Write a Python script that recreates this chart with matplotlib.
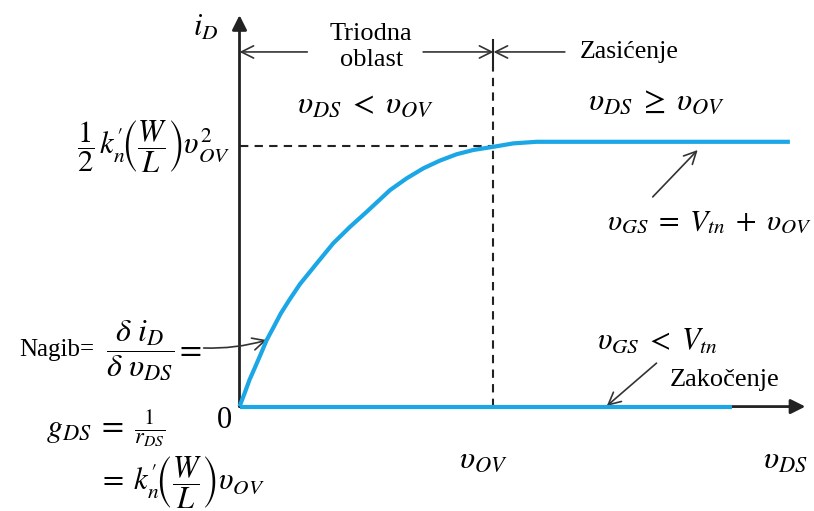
import numpy as np
import matplotlib.pyplot as plt

plt.rcParams['mathtext.fontset'] = 'stix'
plt.rcParams['font.family'] = ['Liberation Serif', 'DejaVu Serif']

# i_D(v_DS) for v_GS = V_tn + v_OV, normalised: v_DS / v_OV and i_D / i_D,sat
vds_curve = [0.0, 0.020, 0.039, 0.062, 0.085, 0.107, 0.135, 0.163, 0.196,
             0.238, 0.304, 0.369, 0.435, 0.501, 0.593, 0.658, 0.724, 0.789,
             0.855, 0.920, 0.999, 1.078, 1.170, 2.167]
id_curve = [0.0, 0.050, 0.100, 0.150, 0.201, 0.251, 0.301, 0.352, 0.402,
            0.462, 0.540, 0.616, 0.678, 0.735, 0.817, 0.861, 0.899, 0.928,
            0.952, 0.968, 0.980, 0.993, 0.999, 0.999]

# cutoff (v_GS < V_tn): i_D = 0
vds_cutoff = [0.0, 1.941]
id_cutoff = [0.0, 0.0]

v_ov = 1.0
id_sat_mark = 0.982
vds_axis_end = 2.228
id_axis_end = 1.477

BLUE = '#1ba6e6'
INK = '#222222'

fig = plt.figure(figsize=(8.14, 5.11), dpi=100)
ax = fig.add_axes([0, 0, 1, 1])
ax.set_xlim(-0.943, 2.262)
ax.set_ylim(-0.394, 1.534)
ax.axis('off')

# axes with arrows
axis_kw = dict(arrowstyle='-|>', lw=2.0, color=INK, mutation_scale=22,
               shrinkA=0, shrinkB=0)
ax.annotate('', xy=(0, id_axis_end), xytext=(0, 0), arrowprops=axis_kw)
ax.annotate('', xy=(vds_axis_end, 0), xytext=(0, 0), arrowprops=axis_kw)

# dashed guides at v_OV and saturation current
ax.plot([0, v_ov], [id_sat_mark, id_sat_mark], ls=(0, (4, 3)), color=INK, lw=1.5)
ax.plot([v_ov, v_ov], [0, 1.281], ls=(0, (4, 3)), color=INK, lw=1.5)
ax.plot([v_ov, v_ov], [1.281, 1.383], color=INK, lw=1.5)

# characteristic curves
ax.plot(vds_curve, id_curve, color=BLUE, lw=3, solid_capstyle='butt',
        solid_joinstyle='round', zorder=5)
ax.plot(vds_cutoff, id_cutoff, color=BLUE, lw=3, solid_capstyle='butt', zorder=5)

# region arrows
thin = dict(arrowstyle='->', lw=1.2, color='#333333', mutation_scale=22,
            shrinkA=0, shrinkB=0)
ax.annotate('', xy=(0, 1.338), xytext=(0.267, 1.338), arrowprops=thin)
ax.annotate('', xy=(v_ov, 1.338), xytext=(0.723, 1.338), arrowprops=thin)
ax.annotate('', xy=(v_ov, 1.338), xytext=(1.281, 1.338), arrowprops=thin)
ax.annotate('', xy=(1.804, 0.968), xytext=(1.627, 0.791), arrowprops=thin)
ax.annotate('', xy=(1.446, 0.002), xytext=(1.642, 0.164), arrowprops=thin)
ax.annotate('', xy=(0.107, 0.251), xytext=(-0.141, 0.221),
            arrowprops=dict(thin, connectionstyle='arc3,rad=0.08'))

ax.text(-0.134, 1.428, r'$i_D$', fontsize=22, ha='center', va='center')
ax.text(0.519, 1.357, 'Triodna\noblast', fontsize=19, ha='center', va='center',
        linespacing=1.25)
ax.text(1.340, 1.338, 'Zasićenje', fontsize=18.5, ha='left', va='center')
ax.text(0.495, 1.138, r'$\upsilon_{DS}\;<\;\upsilon_{OV}$', fontsize=23,
        ha='center', va='center')
ax.text(1.642, 1.149, r'$\upsilon_{DS}\;\geq\;\upsilon_{OV}$', fontsize=23,
        ha='center', va='center')
ax.text(-0.035, 0.979,
        r"$\dfrac{1}{2}\,k_n^{\prime}\!\left(\dfrac{W}{L}\right)\upsilon_{OV}^2$",
        fontsize=22, ha='right', va='center')
ax.text(1.446, 0.696, r'$\upsilon_{GS}\;=\;V_{tn}\;+\;\upsilon_{OV}$', fontsize=21.5,
        ha='left', va='center')
ax.text(1.407, 0.247, r'$\upsilon_{GS}\;<\;V_{tn}$', fontsize=22,
        ha='left', va='center')
ax.text(1.694, 0.100, 'Zakočenje', fontsize=19, ha='left', va='center')
ax.text(0.959, -0.202, r'$\upsilon_{OV}$', fontsize=23, ha='center', va='center')
ax.text(2.149, -0.202, r'$\upsilon_{DS}$', fontsize=23, ha='center', va='center')
ax.text(-0.059, -0.051, '0', fontsize=22, ha='center', va='center')

ax.text(-0.868, 0.213, 'Nagib=', fontsize=18, ha='left', va='center')
ax.text(-0.389, 0.213, r'$\dfrac{\delta\ i_D}{\delta\ \upsilon_{DS}}$', fontsize=23,
        ha='center', va='center')
ax.text(-0.2, 0.213, r'$=$', fontsize=23, ha='center', va='center')
ax.text(-0.762, -0.081, r'$g_{DS}\;=\;\frac{1}{r_{DS}}$', fontsize=23,
        ha='left', va='center')
ax.text(-0.558, -0.289, r"$=\;k_n^{\prime}\!\left(\dfrac{W}{L}\right)\upsilon_{OV}$",
        fontsize=22, ha='left', va='center')

fig.savefig('out.png', dpi=100)
